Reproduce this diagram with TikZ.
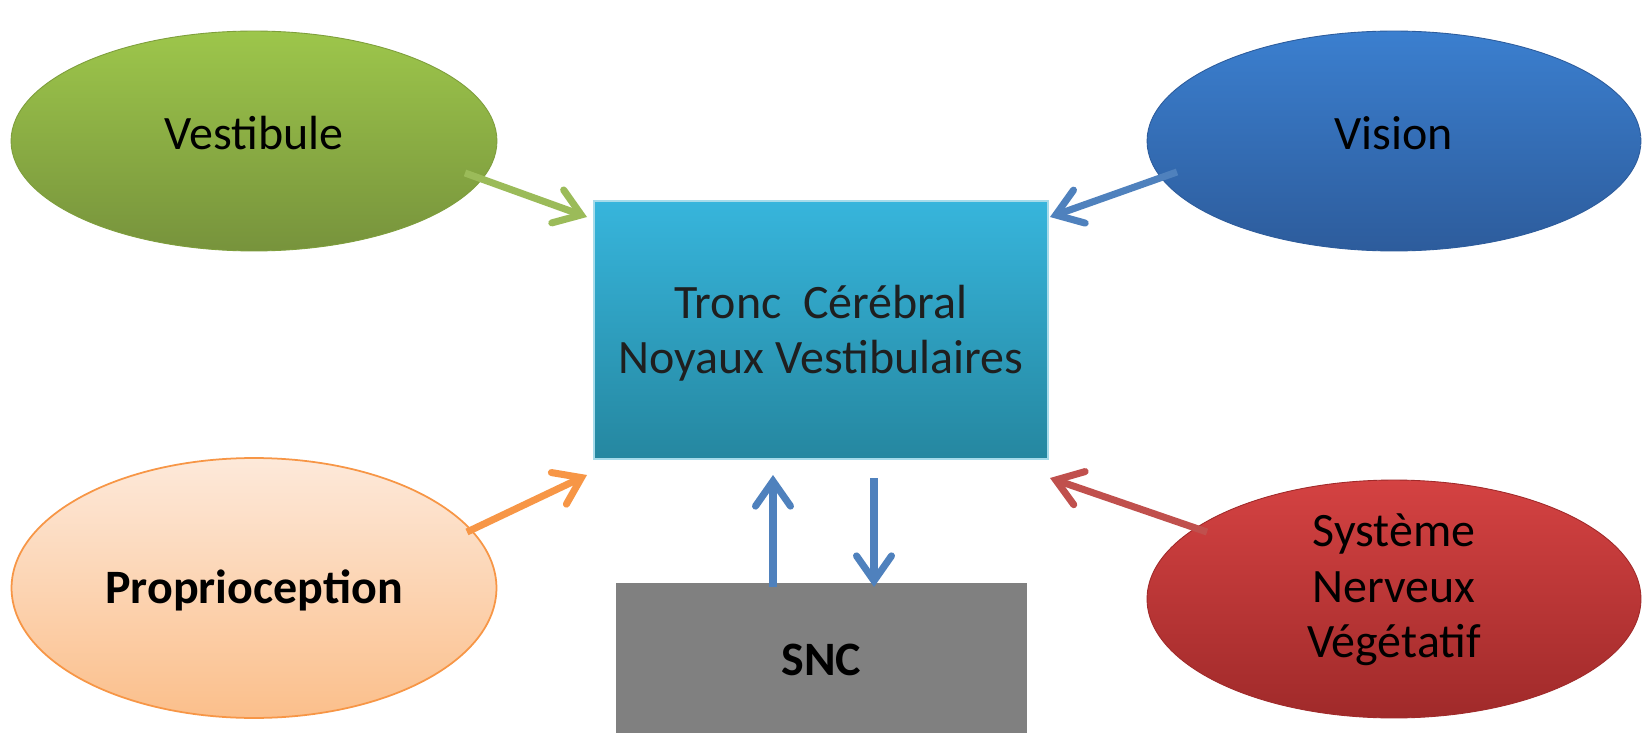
\documentclass[tikz,border=0pt]{standalone}
\usepackage{fontspec}
\setmainfont{Carlito}
\usetikzlibrary{shapes.geometric,arrows.meta}
\definecolor{vestTop}{HTML}{9DC64B}
\definecolor{vestBot}{HTML}{77933C}
\definecolor{visTop}{HTML}{3B7FCF}
\definecolor{visBot}{HTML}{2D5C9C}
\definecolor{proTop}{HTML}{FDE9DA}
\definecolor{proBot}{HTML}{FBBF8B}
\definecolor{proLine}{HTML}{F79646}
\definecolor{snvTop}{HTML}{D44242}
\definecolor{snvBot}{HTML}{A02A2A}
\definecolor{boxTop}{HTML}{37B5DC}
\definecolor{boxBot}{HTML}{2587A0}
\definecolor{boxLine}{HTML}{A6DBEA}
\definecolor{sncGray}{HTML}{808080}
\definecolor{arGreen}{HTML}{9BBB59}
\definecolor{arBlue}{HTML}{4F81BD}
\definecolor{arRed}{HTML}{C0504D}
\tikzset{
  oval/.style={ellipse, inner sep=0pt},
  lbl/.style={align=center, inner sep=0pt, text=black, font=\fontsize{27.3}{31.6}\selectfont},
  blbl/.style={lbl, font=\fontsize{27.3}{31.6}\selectfont\bfseries},
  conn/.style={line width=4pt, -{Straight Barb[length=0.5cm,width=0.7cm,line cap=round]}},
}
\begin{document}
\begin{tikzpicture}[x=0.02cm,y=-0.02cm]
\useasboundingbox[fill=white] (0,0) rectangle (1643,733);
% ellipses
\node[oval, minimum width=9.72cm, minimum height=4.4cm, top color=vestTop, bottom color=vestBot, draw=vestTop!80!black, line width=0.5pt] (vest) at (254,141) {};
\node[lbl] (vestlabel) at (254,133) {Vestibule};
\node[oval, minimum width=9.88cm, minimum height=4.4cm, top color=visTop, bottom color=visBot, draw=visBot, line width=0.5pt] (vis) at (1394,141) {};
\node[lbl] (vislabel) at (1394,133) {Vision};
\node[oval, minimum width=9.7cm, minimum height=5.2cm, top color=proTop, bottom color=proBot, draw=proLine, line width=1pt] (pro) at (254,588) {};
\node[blbl] (prolabel) at (254,590) {Proprioception};
\node[oval, minimum width=9.88cm, minimum height=4.76cm, top color=snvTop, bottom color=snvBot, draw=snvBot, line width=0.5pt] (snv) at (1394,599) {};
\node[lbl] (snvlabel) at (1394,590) {Système\\Nerveux\\Végétatif};
% boxes
\node[rectangle, minimum width=9.08cm, minimum height=5.16cm, top color=boxTop, bottom color=boxBot, draw=boxLine, line width=1pt] (tronc) at (821,330) {};
\node[lbl, text=black!88] (tronclabel) at (821,333) {Tronc\ \ Cérébral\\Noyaux Vestibulaires};
\node[rectangle, minimum width=8.22cm, minimum height=3cm, fill=sncGray] (snc) at (821.5,658) {};
\node[blbl] (snclabel) at (821.5,660) {SNC};
% connector coordinates
\coordinate (vs) at (465,173); \coordinate (ve) at (587,217);
\coordinate (is) at (1177,172); \coordinate (ie) at (1050,217);
\coordinate (ps) at (467,532); \coordinate (pe) at (587,475);
\coordinate (ss) at (1207,532); \coordinate (se) at (1050,478);
\coordinate (us) at (773,587); \coordinate (ue) at (773,475);
\coordinate (ds) at (874,478); \coordinate (de) at (874,587);
\draw[conn, draw=arGreen] (vs) -- (ve);
\draw[conn, draw=arBlue] (is) -- (ie);
\draw[conn, draw=proLine] (ps) -- (pe);
\draw[conn, draw=arRed] (ss) -- (se);
\draw[conn, draw=arBlue] (us) -- (ue);
\draw[conn, draw=arBlue] (ds) -- (de);
\end{tikzpicture}
\end{document}
